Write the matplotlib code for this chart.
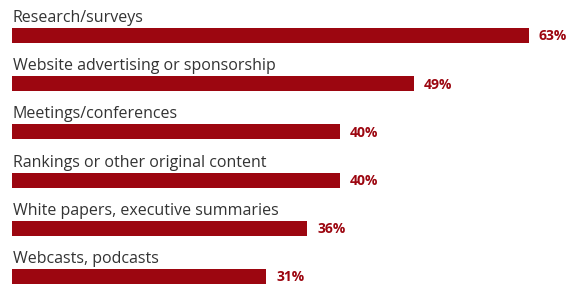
import matplotlib.pyplot as plt

categories = [
    "Research/surveys",
    "Website advertising or sponsorship",
    "Meetings/conferences",
    "Rankings or other original content",
    "White papers, executive summaries",
    "Webcasts, podcasts",
]
values = [63, 49, 40, 40, 36, 31]

bar_color = "#9c0610"
text_color = "#333333"

fig = plt.figure(figsize=(5.82, 2.86), dpi=100)
ax = fig.add_axes([12 / 582, 0, 570 / 582, 1])

ypos = list(range(len(values)))
ax.barh(ypos, values, height=0.31, color=bar_color)
ax.set_xlim(0, 69.5)
ax.set_ylim(5.197, -0.737)

for y, cat, v in zip(ypos, categories, values):
    ax.text(0.1, y - 0.28, cat, ha="left", va="baseline",
            fontsize=11.5, color=text_color, family="Open Sans")
    ax.text(v + 1.2, y + 0.02, f"{v}%", ha="left", va="center",
            fontsize=10, fontweight="bold", color=bar_color, family="Open Sans")

ax.axis("off")
fig.savefig("out.png", dpi=100)
